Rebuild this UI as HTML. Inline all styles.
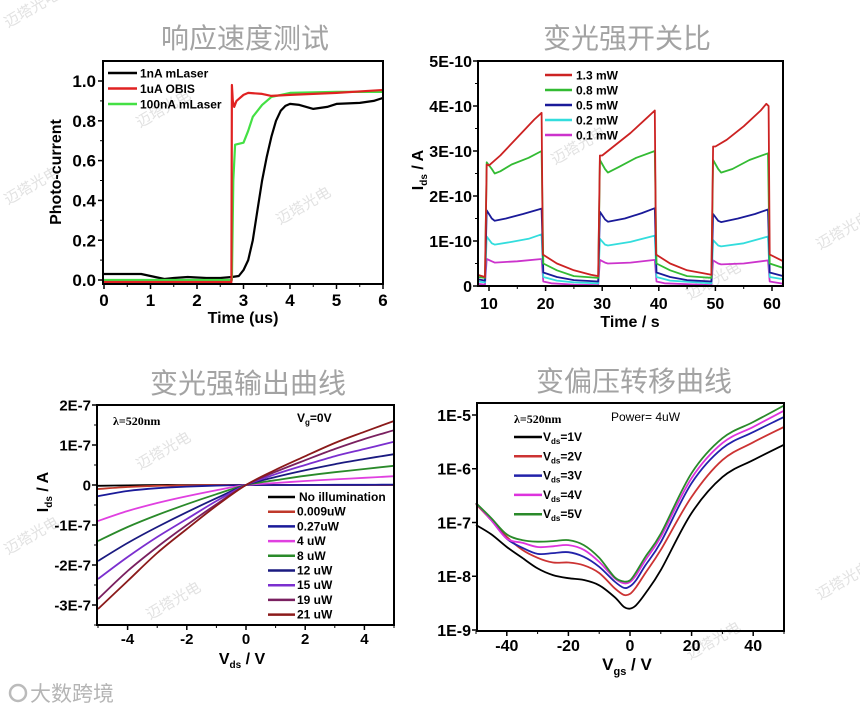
<!DOCTYPE html>
<html><head><meta charset="utf-8">
<style>
html,body{margin:0;padding:0;background:#fff;width:860px;height:710px;overflow:hidden}
svg{display:block}
text{font-family:"Liberation Sans","Noto Sans CJK SC",sans-serif}
.t{font-family:"Noto Sans CJK SC","WenQuanYi Zen Hei",sans-serif;font-size:28px;fill:#a3a3a3;text-anchor:middle}
.tick{font-weight:bold;fill:#000}
.leg{font-weight:bold;font-size:12px;fill:#000}
.wm{font-family:"Noto Sans CJK SC",sans-serif;font-size:15px;fill:#e2e2e2}
</style></head>
<body>
<svg id="chart" width="860" height="710" viewBox="0 0 860 710" xmlns="http://www.w3.org/2000/svg">
<text class="t" x="245" y="48">响应速度测试</text>
<text class="t" x="627" y="48">变光强开关比</text>
<text class="t" x="248" y="393">变光强输出曲线</text>
<text class="t" x="634" y="391">变偏压转移曲线</text>
<g>
<text class="wm" transform="translate(8,28) rotate(-30)">迈塔光电</text>
<text class="wm" transform="translate(140,128) rotate(-30)">迈塔光电</text>
<text class="wm" transform="translate(8,205) rotate(-30)">迈塔光电</text>
<text class="wm" transform="translate(280,225) rotate(-30)">迈塔光电</text>
<text class="wm" transform="translate(555,165) rotate(-30)">迈塔光电</text>
<text class="wm" transform="translate(690,300) rotate(-30)">迈塔光电</text>
<text class="wm" transform="translate(820,250) rotate(-30)">迈塔光电</text>
<text class="wm" transform="translate(140,470) rotate(-30)">迈塔光电</text>
<text class="wm" transform="translate(8,555) rotate(-30)">迈塔光电</text>
<text class="wm" transform="translate(150,620) rotate(-30)">迈塔光电</text>
<text class="wm" transform="translate(820,600) rotate(-30)">迈塔光电</text>
<text class="wm" transform="translate(690,660) rotate(-30)">迈塔光电</text>
</g>
<g>
<circle cx="18" cy="693" r="8" fill="none" stroke="#bbb" stroke-width="2.5"/>
<text x="30" y="701" font-size="21" fill="#b5b5b5" style="font-family:'Noto Sans CJK SC',sans-serif">大数跨境</text>
</g>
</svg>
<script>
// ---------- Panel 1 data ----------
const p1BlackT=[0,0.8,1.0,1.3,1.5,1.8,2.2,2.5,2.75,2.9,3.0,3.1,3.2,3.3,3.4,3.5,3.6,3.7,3.8,3.9,4.0,4.2,4.5,4.8,5.0,5.5,5.8,6.0];
const p1BlackV=[0.03,0.03,0.02,0.005,0.01,0.015,0.01,0.01,0.015,0.02,0.05,0.1,0.2,0.35,0.5,0.62,0.72,0.8,0.85,0.875,0.885,0.88,0.86,0.87,0.885,0.89,0.9,0.915];
const p1RedT=[0,2.74,2.75,2.77,2.8,2.85,2.9,3.0,3.1,3.4,3.6,4,5,6];
const p1RedV=[-0.01,-0.01,0.98,0.9,0.87,0.9,0.91,0.93,0.94,0.935,0.925,0.93,0.94,0.955];
const p1GreenT=[0,2.75,2.78,2.82,3.0,3.1,3.2,3.4,3.6,4,5,6];
const p1GreenV=[0,0,0.5,0.68,0.69,0.75,0.82,0.88,0.92,0.94,0.945,0.945];
const p1XTicks=[0,1,2,3,4,5,6];
const p1YTicks=[0,0.2,0.4,0.6,0.8,1.0];
const p1YLabels=["0.0","0.2","0.4","0.6","0.8","1.0"];
const p1Legend=["1nA mLaser","1uA OBIS","100nA mLaser"];
// ---------- Panel 2 data (units 1E-10 A) ----------
const p2RedT=[8,9.3,9.6,10,12,15,18,19.3,19.5,22,25,28,29.3,29.6,30,32,35,38,39.3,39.5,42,45,49.3,49.6,50,52,55,58,59,59.4,59.6,62];
const p2RedV=[0.25,0.2,2.7,2.68,2.9,3.3,3.7,3.85,0.7,0.5,0.35,0.25,0.22,2.9,2.9,3.1,3.4,3.75,3.9,0.7,0.5,0.35,0.25,3.1,3.1,3.25,3.55,3.9,4.05,4.0,0.7,0.55];
const p2GreenT=[8,9.3,9.6,10.5,11,12,14,17,19.3,19.6,22,25,29.3,29.6,30.5,31,33,36,39.3,39.6,42,45,49.3,49.6,50.5,51,53,56,59.3,59.6,62];
const p2GreenV=[0.2,0.18,2.75,2.6,2.5,2.55,2.7,2.85,3.0,0.5,0.35,0.22,0.18,2.8,2.6,2.52,2.65,2.85,3.0,0.5,0.35,0.22,0.18,2.8,2.6,2.52,2.6,2.8,2.95,0.5,0.4];
const p2BlueT=[8,9.3,9.6,10.5,11,13,16,19.3,19.6,22,25,29.3,29.6,30.5,31,34,37,39.3,39.6,42,45,49.3,49.6,50.5,51,54,57,59.3,59.6,62];
const p2BlueV=[0.15,0.12,1.68,1.5,1.45,1.5,1.6,1.72,0.3,0.2,0.13,0.1,1.65,1.48,1.43,1.5,1.62,1.73,0.3,0.2,0.13,0.1,1.6,1.45,1.42,1.5,1.6,1.7,0.3,0.22];
const p2CyanT=[8,9.3,9.6,10.5,11,14,17,19.3,19.6,22,25,29.3,29.6,30.5,31,35,39.3,39.6,42,49.3,49.6,50.5,51,55,59.3,59.6,62];
const p2CyanV=[0.1,0.08,1.1,0.95,0.92,0.98,1.05,1.15,0.2,0.12,0.08,0.06,1.05,0.92,0.9,0.98,1.12,0.2,0.12,0.06,1.02,0.9,0.88,0.95,1.1,0.2,0.15];
const p2MagT=[8,9.3,9.6,10.5,11,15,19.3,19.6,21,25,29.3,29.6,30.5,31,35,39.3,39.6,41,49.3,49.6,50.5,51,55,59.3,59.6,62];
const p2MagV=[0.05,0.03,0.6,0.55,0.52,0.55,0.6,0.1,0.06,0.03,0.02,0.58,0.52,0.5,0.52,0.58,0.1,0.06,0.02,0.57,0.5,0.48,0.5,0.57,0.1,0.05];
const p2XTicks=[10,20,30,40,50,60];
const p2YTicks=[0,1,2,3,4,5];
const p2YLabels=["0","1E-10","2E-10","3E-10","4E-10","5E-10"];
const p2Legend=["1.3 mW","0.8 mW","0.5 mW","0.2 mW","0.1 mW"];
// ---------- Panel 3 data (units 1E-7 A) ----------
const p3V=[-5,-4,-3,-2,-1,0,1,2,3,4,5];
const p3None=[-0.02,-0.01,0,0,0,0,0,0,0,0,0];
const p3P0009=[-0.1,-0.05,-0.02,-0.01,0,0,0,0,0,0,0];
const p3P027=[-0.28,-0.15,-0.08,-0.04,-0.015,0,0,0,0.005,0.005,0.01];
const p3P4=[-0.9,-0.65,-0.45,-0.28,-0.13,0,0.05,0.1,0.14,0.18,0.22];
const p3P8=[-1.4,-1.05,-0.75,-0.48,-0.23,0,0.12,0.23,0.32,0.4,0.48];
const p3P12=[-1.9,-1.45,-1.05,-0.68,-0.33,0,0.2,0.37,0.52,0.65,0.77];
const p3P15=[-2.35,-1.8,-1.3,-0.85,-0.4,0,0.27,0.5,0.72,0.9,1.08];
const p3P19=[-2.85,-2.15,-1.55,-1.0,-0.48,0,0.33,0.62,0.9,1.15,1.37];
const p3P21=[-3.1,-2.4,-1.7,-1.1,-0.52,0,0.38,0.72,1.05,1.33,1.6];
const p3XTicks=[-4,-2,0,2,4];
const p3YTicks=[2,1,0,-1,-2,-3];
const p3YLabels=["2E-7","1E-7","0","-1E-7","-2E-7","-3E-7"];
const p3Legend=["No illumination","0.009uW","0.27uW","4 uW","8 uW","12 uW","15 uW","19 uW","21 uW"];
// ---------- Panel 4 data ----------
const p4V=[-50,-45,-40,-35,-30,-25,-20,-15,-10,-5,-2,0,2,5,10,20,30,40,50];
const p4Vds1=[9e-8,6e-8,3.5e-8,2.2e-8,1.4e-8,1.05e-8,9.2e-9,8.5e-9,6.8e-9,4.1e-9,2.7e-9,2.5e-9,2.9e-9,4.8e-9,1.3e-8,1.5e-7,7e-7,1.45e-6,2.8e-6];
const p4Vds2=[2.2e-7,1.1e-7,5.4e-8,3.1e-8,2.2e-8,1.8e-8,1.8e-8,1.6e-8,1.15e-8,6e-9,4.5e-9,4.7e-9,6.3e-9,1.15e-8,3.1e-8,3e-7,1.45e-6,3.1e-6,6e-6];
const p4Vds3=[2.3e-7,1.1e-7,5e-8,3.4e-8,2.6e-8,2.7e-8,2.8e-8,2.3e-8,1.5e-8,8e-9,6.1e-9,6.5e-9,8.5e-9,1.6e-8,4.3e-8,5.4e-7,2.4e-6,4.8e-6,9.2e-6];
const p4Vds4=[2.3e-7,1.1e-7,5e-8,4.2e-8,3.5e-8,3.6e-8,3.8e-8,3.1e-8,1.85e-8,9.2e-9,7.4e-9,7.8e-9,1.05e-8,2e-8,5.4e-8,6.7e-7,3e-6,6e-6,1.2e-5];
const p4Vds5=[2.3e-7,1.2e-7,6e-8,4.7e-8,4.4e-8,4.5e-8,4.7e-8,3.8e-8,2.2e-8,9.6e-9,8e-9,8.4e-9,1.2e-8,2.3e-8,6.2e-8,8.3e-7,3.7e-6,7.4e-6,1.5e-5];
const p4XTicks=[-40,-20,0,20,40];
const p4YExp=[-5,-6,-7,-8,-9];
const p4YLabels=["1E-5","1E-6","1E-7","1E-8","1E-9"];
const p4Legend=["1V","2V","3V","4V","5V"];

const NS="http://www.w3.org/2000/svg";
const svg=document.getElementById('chart');
function mk(tag,attrs,parent){const e=document.createElementNS(NS,tag);for(const k in attrs)e.setAttribute(k,attrs[k]);(parent||svg).appendChild(e);return e;}
function lin(d0,d1,r0,r1){return v=>r0+(v-d0)*(r1-r0)/(d1-d0);}
function linePath(xs,ys,sx,sy){return xs.map((x,i)=>(i?'L':'M')+sx(x).toFixed(1)+','+sy(ys[i]).toFixed(1)).join('');}
function smoothPath(xs,ys,sx,sy){const p=xs.map((x,i)=>[sx(x),sy(ys[i])]);let d='M'+p[0][0]+','+p[0][1];
 for(let i=0;i<p.length-1;i++){const a=p[i-1]||p[i],b=p[i],c=p[i+1],e=p[i+2]||c;
 d+='C'+(b[0]+(c[0]-a[0])/6).toFixed(1)+','+(b[1]+(c[1]-a[1])/6).toFixed(1)+' '+(c[0]-(e[0]-b[0])/6).toFixed(1)+','+(c[1]-(e[1]-b[1])/6).toFixed(1)+' '+c[0].toFixed(1)+','+c[1].toFixed(1);}return d;}
function frame(g,x0,y0,x1,y1){const r=mk('rect',{x:x0,y:y0,width:x1-x0,height:y1-y0,fill:'none',stroke:'#000','stroke-width':2},g);
 
 }
function xTicks(g,vals,labels,sx,yb,ly,fs,minors){vals.forEach((v,i)=>{mk('line',{x1:sx(v),x2:sx(v),y1:yb,y2:yb+5,stroke:'#000','stroke-width':1.5},g);
 const t=mk('text',{x:sx(v),y:ly,'font-size':fs,'text-anchor':'middle',class:'tick'},g);t.textContent=labels[i];
 
 });
 minors.forEach(v=>mk('line',{x1:sx(v),x2:sx(v),y1:yb,y2:yb+3,stroke:'#000','stroke-width':1},g));}
function yTicks(g,vals,labels,sy,xl,lx,fs,minors){vals.forEach((v,i)=>{mk('line',{x1:xl-5,x2:xl,y1:sy(v),y2:sy(v),stroke:'#000','stroke-width':1.5},g);
 const t=mk('text',{x:lx,y:sy(v)+fs*0.36,'font-size':fs,'text-anchor':'end',class:'tick'},g);t.textContent=labels[i];
 
 });
 minors.forEach(v=>mk('line',{x1:xl-3,x2:xl,y1:sy(v),y2:sy(v),stroke:'#000','stroke-width':1},g));}
function series(g,d,color,w,name){const p=mk('path',{d:d,fill:'none',stroke:color,'stroke-width':w,'stroke-linejoin':'round'},g);
 
 }
function legend(g,x0,x1,tx,y,color,label,fs,name){mk('line',{x1:x0,x2:x1,y1:y,y2:y,stroke:color,'stroke-width':2.5},g);
 const t=mk('text',{x:tx,y:y+fs*0.36,'font-size':fs,class:'leg'},g);t.innerHTML=label;
 
 }
function label(g,html,x,y,fs,rot,anchor,name,extra){const t=mk('text',Object.assign({x:x,y:y,'font-size':fs,'font-weight':'bold','text-anchor':anchor||'middle'},extra||{}),g);
 if(rot)t.setAttribute('transform','rotate(-90 '+x+' '+y+')');t.innerHTML=html;
 
 }
function range(a,b,s){const r=[];for(let v=a;v<=b+1e-9;v+=s)r.push(+v.toFixed(4));return r;}

// ---- Panel 1 ----
{const g=mk('g',{});
 const sx=lin(0,6,104,383),sy=lin(0,1,280,81);
 series(g,linePath(p1BlackT,p1BlackV,sx,sy),'#000',2.2,'series-1na-mlaser');
 series(g,linePath(p1GreenT,p1GreenV,sx,sy),'#44e044',2.2,'series-100na-mlaser');
 series(g,linePath(p1RedT,p1RedV,sx,sy),'#e02222',2.2,'series-1ua-obis');
 frame(g,103,61,383,284);
 xTicks(g,p1XTicks,p1XTicks.map(String),sx,284,306,17,range(0.5,5.5,1));
 yTicks(g,p1YTicks,p1YLabels,sy,103,96,17,range(0.1,1.0,0.2));
 label(g,'Time (us)',243,323,16);
 label(g,'Photo-current',61,172,16,true);
 ['#000','#e02222','#44e044'].forEach((c,i)=>legend(g,108,137,140,73+i*15.5,c,p1Legend[i],13,'legend-entry'));}
// ---- Panel 2 ----
{const g=mk('g',{});
 const sx=lin(10,60,489,772),sy=lin(0,5,286,61);
 const cols=['#cc2222','#33bb33','#1a1a99','#33dddd','#cc33cc'];
 [[p2MagT,p2MagV],[p2CyanT,p2CyanV],[p2BlueT,p2BlueV],[p2GreenT,p2GreenV],[p2RedT,p2RedV]].forEach((s,i)=>series(g,linePath(s[0],s[1],sx,sy),cols[4-i],1.8,'series-'+p2Legend[4-i].replace(/ /g,'')));
 frame(g,478,61,783,286);
 xTicks(g,p2XTicks,p2XTicks.map(String),sx,286,309,16,range(15,55,10));
 yTicks(g,p2YTicks,p2YLabels,sy,478,472,16,range(0.5,4.5,1));
 label(g,'Time / s',630,327,16);
 label(g,'I<tspan font-size="10" dy="4">ds</tspan><tspan dy="-4"> / A</tspan>',423,170,16,true);
 cols.forEach((c,i)=>legend(g,545,572,576,75+i*15,c,p2Legend[i],12,'legend-entry'));}
// ---- Panel 3 ----
{const g=mk('g',{});
 const sx=lin(0,5,246,394),sy=lin(0,1,485,445);
 const cols=['#000','#c0392b','#1a1a99','#e040e0','#2a8a2a','#1a1a80','#7b2fcf','#7a2060','#8b1a1a'];
 const data=[p3None,p3P0009,p3P027,p3P4,p3P8,p3P12,p3P15,p3P19,p3P21];
 data.forEach((s,i)=>series(g,smoothPath(p3V,s,sx,sy),cols[i],1.8,'series-'+p3Legend[i].replace(/ /g,'-')));
 frame(g,97,405,394,625);
 xTicks(g,p3XTicks,p3XTicks.map(String),sx,625,644,15,[-5,-3,-1,1,3,5]);
 yTicks(g,p3YTicks,p3YLabels,sy,97,91,15,range(-3.5,1.5,1));
 label(g,'V<tspan font-size="10" dy="4">ds</tspan><tspan dy="-4"> / V</tspan>',242,664,16);
 label(g,'I<tspan font-size="10" dy="4">ds</tspan><tspan dy="-4"> / A</tspan>',48,492,16,true);
 cols.forEach((c,i)=>legend(g,268,295,i===0?299:297,497+i*14.7,c,p3Legend[i],11,'legend-entry'));
 label(g,'λ=520nm',113,425,12,false,'start','wavelength-note',{style:'font-family:"Liberation Serif",serif'});
 label(g,'V<tspan font-size="8" dy="3">g</tspan><tspan dy="-3">=0V</tspan>',297,422,12,false,'start','gate-voltage-note');}
// ---- Panel 4 ----
{const g=mk('g',{});
 const sx=lin(0,50,630,784),sl=lin(-5,-9,415,630),sy=v=>sl(Math.log10(v));
 const cols=['#000','#cc3333','#2222aa','#dd33dd','#2a8a2a'];
 [p4Vds1,p4Vds2,p4Vds3,p4Vds4,p4Vds5].forEach((s,i)=>series(g,smoothPath(p4V,s,sx,sy),cols[i],1.8,'series-vds-'+p4Legend[i]));
 frame(g,477,403,784,631);
 xTicks(g,p4XTicks,p4XTicks.map(String),sx,631,651,16,range(-50,50,20));
 yTicks(g,p4YExp,p4YLabels,sl,477,471,16,[]);
 label(g,'V<tspan font-size="11" dy="5">gs</tspan><tspan dy="-5"> / V</tspan>',627,670,17);
 cols.forEach((c,i)=>legend(g,514,542,543,437+i*19.3,c,'V<tspan font-size="8" dy="3">ds</tspan><tspan dy="-3">='+p4Legend[i]+'</tspan>',11,'legend-entry'));
 label(g,'λ=520nm',514,423,12,false,'start','wavelength-note',{style:'font-family:"Liberation Serif",serif'});
 const pw=mk('text',{x:611,y:421,'font-size':12},g);pw.textContent='Power= 4uW';
 
 }
</script>
</body></html>
